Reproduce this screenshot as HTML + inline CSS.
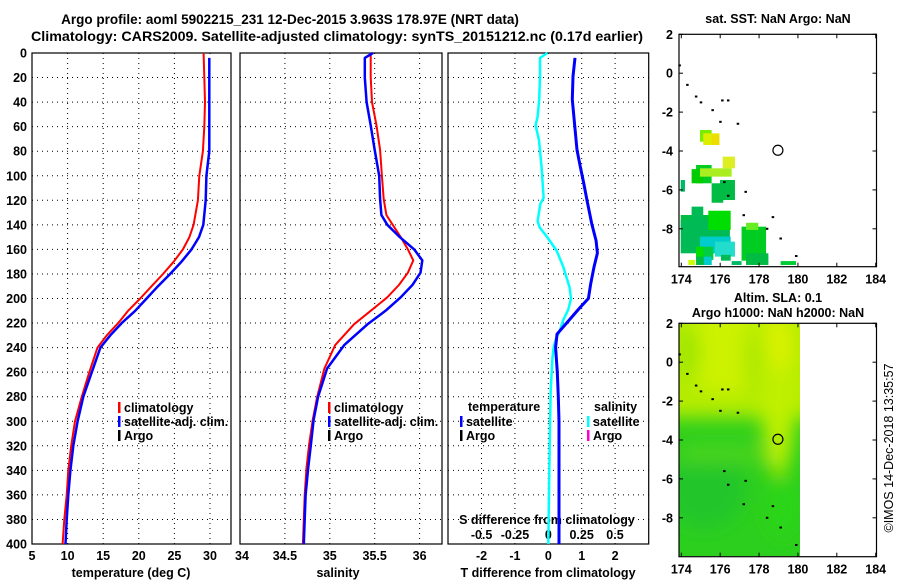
<!DOCTYPE html>
<html><head><meta charset="utf-8"><style>
html,body{margin:0;padding:0;background:#fff;}
svg{display:block;font-family:"Liberation Sans",Arial,sans-serif;}
.t{font-weight:bold;font-size:12.5px;fill:#000;}
.ti{font-weight:bold;font-size:13.5px;fill:#000;}
</style></head><body>
<svg id="c" width="900" height="580" viewBox="0 0 900 580" xmlns="http://www.w3.org/2000/svg">
<defs>
<filter id="blur" x="-50%" y="-50%" width="200%" height="200%"><feGaussianBlur stdDeviation="9"/></filter>
<clipPath id="slaclip"><rect x="679" y="324" width="121" height="232"/></clipPath>
</defs>
<text class="ti" x="290" y="24" text-anchor="middle">Argo profile: aoml 5902215_231 12-Dec-2015 3.963S 178.97E (NRT data)</text>
<text class="ti" x="337" y="41" text-anchor="middle" textLength="612" lengthAdjust="spacingAndGlyphs">Climatology: CARS2009. Satellite-adjusted climatology: synTS_20151212.nc (0.17d earlier)</text>
</svg>
<script>
// ---------- data ----------
const depthTicks = [0,20,40,60,80,100,120,140,160,180,200,220,240,260,280,300,320,340,360,380,400];
const tempTicks = [5,10,15,20,25,30];
const salTicks = [34,34.5,35,35.5,36];
const dTTicks = [-2,-1,0,1,2];
const dSTicks = [-0.5,-0.25,0,0.25,0.5];
const dSTickLabels = ["-0.5","-0.25","0","0.25","0.5"];
const lonTicks = [174,176,178,180,182,184];
const latTicks = [2,0,-2,-4,-6,-8];

const climTDepth = [0,20,40,60,80,100,120,140,150,160,170,180,190,200,210,220,230,240,260,280,300,320,340,360,380,400];
const climT = [29.1,29.2,29.3,29.2,29.0,28.5,28.3,27.7,27.1,26.2,24.9,23.4,21.8,20.2,18.5,17.1,15.5,14.2,13.05,12.0,11.04,10.5,10.1,9.87,9.54,9.3];
const satTDepth = [4,20,40,60,80,100,120,140,150,160,170,180,190,200,210,220,230,240,260,280,300,320,340,360,380,400];
const satT = [29.9,29.9,29.9,29.9,29.9,29.5,29.4,29.06,28.45,27.4,26.0,24.4,22.7,21.1,19.5,17.6,16.0,14.6,13.4,12.2,11.4,10.8,10.4,10.1,9.87,9.7];

const climSDepth = [0,20,40,59,79,100,119,132,140,150,160,169,179,189,199,210,221,238,257,280,299,319,338,360,380,400];
const climS = [35.455,35.455,35.47,35.52,35.56,35.58,35.60,35.63,35.70,35.79,35.87,35.93,35.87,35.77,35.64,35.455,35.27,35.06,34.94,34.86,34.81,34.77,34.74,34.72,34.71,34.70];
const satSDepth = [0,4,20,40,59,79,100,119,132,140,150,160,169,179,189,199,210,221,238,257,280,299,319,338,360,380,400];
const satS = [35.48,35.39,35.39,35.41,35.455,35.50,35.55,35.56,35.575,35.64,35.78,35.94,36.03,36.01,35.92,35.79,35.62,35.42,35.16,34.97,34.87,34.82,34.79,34.76,34.73,34.72,34.71];

const dTDepth = [4,19,38,59,79,93,106,120,139,153,163,174,188,200,207,218,229,240,260,280,300,340,380,400];
const dT = [0.80,0.74,0.72,0.79,0.86,0.96,1.06,1.16,1.30,1.43,1.47,1.37,1.27,1.20,0.96,0.61,0.26,0.22,0.27,0.30,0.32,0.32,0.32,0.32];
const dSDepth = [0,4,19,38,52,59,71,93,118,123,137,142,150,161,174,191,200,209,218,226,233,240,250,275,302,357,400];
const dS = [-0.007,-0.062,-0.062,-0.068,-0.08,-0.095,-0.07,-0.05,-0.035,-0.06,-0.08,-0.065,-0.008,0.062,0.112,0.16,0.17,0.15,0.11,0.087,0.057,0.04,0.03,0.018,0.013,0.005,0.0];

const floatLon = 178.97, floatLat = -3.963;
const coastLon = [173.9,174.3,174.75,175.0,175.6,176.1,176.4,176.0,176.9,176.2,177.3,176.4,177.2,178.7,178.4,179.1,179.9];
const coastLat = [0.4,-0.6,-1.2,-1.5,-1.9,-1.4,-1.4,-2.5,-2.6,-5.6,-6.1,-6.3,-7.3,-7.4,-8.0,-8.5,-9.4];

const sstLon1 = [173.97,173.97,174.96,175.13,175.56,176.13,174.76,174.53,174.96,175.56,175.99,173.97,174.53,175.39,174.96,175.73,174.76,174.76,174.36,174.76,175.16,176.04,176.59,177.1,177.33,177.33,179.11];
const sstLat1 = [-7.29,-7.55,-2.92,-3.09,-3.14,-4.29,-4.72,-4.93,-4.89,-5.66,-5.49,-5.49,-6.86,-7.07,-8.4,-8.66,-8.92,-8.92,-9.6,-9.43,-9.43,-9.34,-9.66,-7.89,-7.69,-9.26,-9.66];
const sstLon2 = [175.99,176.5,175.56,175.96,175.96,176.76,175.56,175.13,176.59,176.16,176.76,174.19,175.13,176.54,176.54,176.76,175.65,175.13,174.7,175.56,175.56,176.54,177.1,178.36,177.96,178.48,179.9];
const sstLat2 = [-8.06,-9.26,-3.52,-3.69,-3.69,-4.89,-5.66,-5.66,-5.32,-6.66,-6.52,-6.09,-7.55,-8.06,-9.26,-9.43,-9.6,-9.47,-9.86,-9.86,-9.86,-9.64,-9.86,-9.64,-8.06,-9.86,-9.86];
const sstColor = ["#00bb44","#00bb55","#77ee00","#ddee00","#eedd00","#ddee22","#00cc22","#00cc00","#aaee22","#00bb44","#00bb44","#00bb66","#00bb55","#00dd00","#00cccc","#22ddcc","#00cc44","#00dd00","#ccff00","#00bb44","#00cccc","#00bb55","#00bb66","#00cc22","#66ee22","#00bb44","#00cc33"];

// ---------- scales ----------
const Y = d => 53 + d*1.2275;
const X1 = v => 32 + (v-5)*7.12;
const X2 = v => 240 + (v-34)*89.8;
const XT = v => 548.3 + v*33.4;
const XS = v => 548.3 + v*133.4;
const MX = lon => 681.3 + (lon-174)*19.44;
const MY1 = lat => 34.3 + (2-lat)*19.45;
const MY2 = lat => 323.3 + (2-lat)*19.45;

const svg = document.getElementById('c');
const NS = 'http://www.w3.org/2000/svg';
function mk(tag, attrs, parent){
  const e = document.createElementNS(NS, tag);
  for (const k in attrs) e.setAttribute(k, attrs[k]);
  (parent||svg).appendChild(e);
  return e;
}
function txt(x,y,s,anchor,cls,parent){
  const e = mk('text',{x:x,y:y,'text-anchor':anchor||'middle','class':cls||'t'},parent);
  e.textContent = s;
  return e;
}
function path(xs, ds, fx, color, w){
  let d = '';
  for (let i=0;i<xs.length;i++) d += (i?'L':'M') + fx(xs[i]).toFixed(1) + ' ' + Y(ds[i]).toFixed(1);
  return mk('path',{d:d,fill:'none',stroke:color,'stroke-width':w,'stroke-linejoin':'round'});
}

// ---------- profile panels ----------
const panels = [
  {name:'temperature-panel', l:32, r:231, fx:X1, ticks:tempTicks},
  {name:'salinity-panel', l:240, r:442, fx:X2, ticks:salTicks},
  {name:'difference-panel', l:448, r:648.7, fx:XT, ticks:dTTicks}
];
panels.forEach(p=>{
  const g = mk('g',{});
  
  
  depthTicks.forEach(d=>{
    if (d===0 || d===400) return;
    const ln = mk('line',{x1:p.l,x2:p.r,y1:Y(d),y2:Y(d),stroke:'#000','stroke-width':1,'stroke-dasharray':'1,4'},g);
    
    
  });
  p.ticks.forEach(v=>{
    const x = p.fx(v);
    if (x <= p.l+1) return;
    const ln = mk('line',{x1:x,x2:x,y1:Y(0),y2:Y(400),stroke:'#000','stroke-width':1,'stroke-dasharray':'1,4'},g);
    
    
  });
  const bx = mk('rect',{x:p.l,y:Y(0),width:p.r-p.l,height:Y(400)-Y(0),fill:'none',stroke:'#000','stroke-width':1.2},g);
  
  
});

depthTicks.forEach(d=>{
  const t = txt(27, Y(d)+4.5, String(d), 'end');
  
  
});
tempTicks.forEach(v=>{
  const t = txt(X1(v), 560, String(v));
  
  
});
salTicks.forEach(v=>{
  const t = txt(X2(v)+(v===34?2:0), 560, String(v));
  
  
});
dTTicks.forEach(v=>{
  const t = txt(XT(v), 560, String(v));
  
  
});
dSTicks.forEach((v,i)=>{
  const t = txt(XS(v), 539, dSTickLabels[i]);
  
  
});
let at;
at = txt(131, 577, 'temperature (deg C)');


at = txt(338, 577, 'salinity');


at = txt(548, 577, 'T difference from climatology');


at = txt(547, 524, 'S difference from climatology');



let s;
s = path(climT, climTDepth, X1, '#ff0000', 2);


s = path(satT, satTDepth, X1, '#0000ff', 2.5);


s = path(climS, climSDepth, X2, '#ff0000', 2);


s = path(satS, satSDepth, X2, '#0000ff', 2.5);


s = path(dS, dSDepth, XS, '#00ffff', 2.5);


s = path(dT, dTDepth, XT, '#0000ff', 3);



function legend(x, y, color, label, name){
  const g = mk('g',{});
  
  
  mk('rect',{x:x,y:y-9,width:2.5,height:11,fill:color},g);
  txt(x+6, y+1, label, 'start', 't', g);
}
legend(118, 411, '#ff0000', 'climatology', 'legend-entry-climatology');
legend(118, 425, '#0000ff', 'satellite-adj. clim.', 'legend-entry-satellite');
legend(118, 439, '#000000', 'Argo', 'legend-entry-argo');
legend(328, 411, '#ff0000', 'climatology', 'legend-entry-climatology');
legend(328, 425, '#0000ff', 'satellite-adj. clim.', 'legend-entry-satellite');
legend(328, 439, '#000000', 'Argo', 'legend-entry-argo');
at = txt(468, 411, 'temperature', 'start');


legend(460, 425, '#0000ff', 'satellite', 'legend-entry-t-satellite');
legend(460, 439, '#000000', 'Argo', 'legend-entry-t-argo');
at = txt(594, 411, 'salinity', 'start');


legend(587, 425, '#00ffff', 'satellite', 'legend-entry-s-satellite');
legend(587, 439, '#ff00cc', 'Argo', 'legend-entry-s-argo');

// ---------- maps ----------
function mapFrame(top, bottom, MY, name){
  const g = mk('g',{});
  
  
  mk('rect',{x:679,y:top,width:197.5,height:bottom-top,fill:'none',stroke:'#000','stroke-width':1.2},g);
  lonTicks.forEach(v=>{
    mk('line',{x1:MX(v),x2:MX(v),y1:top,y2:top+4,stroke:'#000'},g);
    mk('line',{x1:MX(v),x2:MX(v),y1:bottom,y2:bottom-4,stroke:'#000'},g);
    const t = txt(MX(v), bottom+17, String(v), 'middle', 't', g);
    
    
  });
  latTicks.forEach(v=>{
    mk('line',{x1:679,x2:683,y1:MY(v),y2:MY(v),stroke:'#000'},g);
    mk('line',{x1:876.5,x2:872.5,y1:MY(v),y2:MY(v),stroke:'#000'},g);
    const t = txt(673, MY(v)+4.5, String(v), 'end', 't', g);
    
    
  });
}
function coast(MY, parent){
  for (let i=0;i<coastLon.length;i++){
    const r = mk('rect',{x:MX(coastLon[i])-1,y:MY(coastLat[i])-1,width:2.5,height:2,fill:'#000'},parent);
    
    
  }
}
function floatMark(MY){
  const c = mk('circle',{cx:MX(floatLon),cy:MY(floatLat),r:5,fill:'none',stroke:'#000','stroke-width':1.2});
  
  
}

const sstG = mk('g',{});


for (let i=0;i<sstColor.length;i++){
  const x1 = MX(sstLon1[i]), x2 = MX(sstLon2[i]), y1 = MY1(sstLat1[i]), y2 = MY1(sstLat2[i]);
  const r = mk('rect',{x:x1,y:y1,width:x2-x1,height:y2-y1,fill:sstColor[i]},sstG);
  
  
}
coast(MY1);
mapFrame(34.3, 266.7, MY1, 'sst-map');
floatMark(MY1);
at = txt(778, 23, 'sat. SST: NaN Argo: NaN');



const slaG = mk('g',{'clip-path':'url(#slaclip)'});


mk('rect',{x:679,y:324,width:121,height:232,fill:'#2ccf1e'},slaG);
const bl = mk('g',{filter:'url(#blur)'},slaG);
mk('rect',{x:660,y:300,width:160,height:118,fill:'#b4ec00'},bl);
mk('ellipse',{cx:MX(176.4),cy:MY2(0.6),rx:52,ry:42,fill:'#ccf200'},bl);
mk('ellipse',{cx:MX(174.4),cy:MY2(0.5),rx:10,ry:28,fill:'#98e400'},bl);
mk('ellipse',{cx:MX(177.7),cy:MY2(0.2),rx:8,ry:36,fill:'#a4e600'},bl);
mk('ellipse',{cx:MX(179.0),cy:MY2(-1.5),rx:17,ry:85,fill:'#c0f000'},bl);
mk('ellipse',{cx:MX(179.1),cy:MY2(1.0),rx:12,ry:28,fill:'#daf200'},bl);
mk('ellipse',{cx:MX(175.2),cy:MY2(-6.5),rx:40,ry:40,fill:'#22c62a'},bl);
mk('rect',{x:679,y:MY2(-4.2),width:90,height:20,fill:'#48d41a'},bl);
mk('ellipse',{cx:MX(179.2),cy:MY2(-7.5),rx:16,ry:30,fill:'#2ad612'},bl);
coast(MY2);
mapFrame(323.3, 556.7, MY2, 'sla-map');
floatMark(MY2);
at = txt(778, 302, 'Altim. SLA: 0.1');


at = txt(778, 317, 'Argo h1000: NaN h2000: NaN');



const cr = mk('text',{x:0,y:0,'text-anchor':'middle',transform:'translate(893,448) rotate(-90)','font-size':'12.5','fill':'#000'});
cr.textContent = '©IMOS 14-Dec-2018 13:35:57';


</script>
</body></html>
